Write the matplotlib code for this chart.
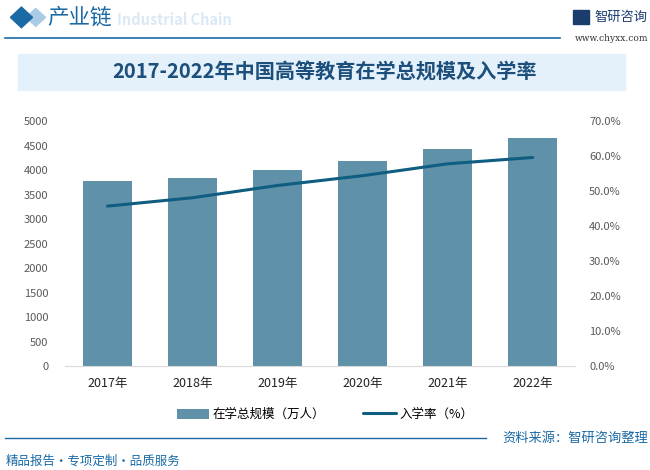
import matplotlib
matplotlib.use("Agg")
from matplotlib import pyplot as plt
from matplotlib.patches import Rectangle, Polygon
from matplotlib.lines import Line2D
from matplotlib.ticker import FuncFormatter

plt.rcParams['font.family'] = ['Noto Sans CJK SC', 'DejaVu Sans']

years = ['2017年', '2018年', '2019年', '2020年', '2021年', '2022年']
enrolment = [3779, 3833, 4002, 4183, 4430, 4655]   # 在学总规模（万人）
gross_rate = [45.7, 48.1, 51.6, 54.4, 57.8, 59.6]  # 入学率（%）

title = '2017-2022年中国高等教育在学总规模及入学率'
bar_color = '#5f91a8'
line_color = '#0f5d80'
blue = '#1b6aa5'
tick_grey = '#595959'

fig = plt.figure(figsize=(6.5, 4.7), dpi=100)

# header
fig.add_artist(Polygon([[0.016, 0.963], [0.033, 0.985], [0.050, 0.963], [0.033, 0.941]],
                       closed=True, color=blue, transform=fig.transFigure))
fig.add_artist(Polygon([[0.040, 0.963], [0.055, 0.982], [0.070, 0.963], [0.055, 0.944]],
                       closed=True, color='#a9cbe6', transform=fig.transFigure, zorder=0))
fig.text(0.180, 0.958, 'Industrial Chain', fontsize=10.5, color='#dbe9f5', weight='bold',
         va='center', ha='left')
fig.text(0.072, 0.962, '产业链', fontsize=15.5, color=blue, va='center', ha='left')
fig.add_artist(Line2D([0.008, 0.862], [0.919, 0.919], color=blue, lw=1.2))
fig.text(0.915, 0.962, '智研咨询', fontsize=9.5, color='#1a3d6e', va='center', ha='left')
fig.add_artist(Rectangle((0.882, 0.950), 0.024, 0.028, color='#1a3d6e', transform=fig.transFigure))
fig.text(0.998, 0.918, 'www.chyxx.com', fontsize=6.5, color='#333333', va='center', ha='right',
         family='DejaVu Serif')

# title band
fig.add_artist(Rectangle((0.028, 0.808), 0.934, 0.078, color='#e5f1fa', transform=fig.transFigure,
                         zorder=0))
fig.text(0.5, 0.847, title, fontsize=14.5, color='#1c4f7c', weight='bold', ha='center', va='center')

# chart
ax = fig.add_axes([0.1, 0.2213, 0.785, 0.521])
x = list(range(len(years)))
ax.bar(x, enrolment, width=0.57, color=bar_color, label='在学总规模（万人）', zorder=2)
ax.set_ylim(0, 5000)
ax.set_yticks(range(0, 5001, 500))
ax.set_xlim(-0.5, 5.5)
ax.set_xticks(x)
ax.set_xticklabels(years, fontsize=9, color='#222222')
ax.tick_params(axis='y', labelsize=8, colors=tick_grey, length=0, pad=12)
ax.tick_params(axis='x', length=0, pad=8)
for s in ['top', 'right', 'left']:
    ax.spines[s].set_visible(False)
ax.spines['bottom'].set_color('#d9d9d9')

ax2 = ax.twinx()
ax2.plot(x, gross_rate, color=line_color, lw=2.2, label='入学率（%）', solid_capstyle='round')
ax2.set_ylim(0, 70)
ax2.set_yticks(range(0, 71, 10))
ax2.yaxis.set_major_formatter(FuncFormatter(lambda v, p: '%.1f%%' % v))
ax2.tick_params(axis='y', labelsize=8, colors=tick_grey, length=0, pad=10)
for s in ['top', 'right', 'left', 'bottom']:
    ax2.spines[s].set_visible(False)

h1, l1 = ax.get_legend_handles_labels()
h2, l2 = ax2.get_legend_handles_labels()
fig.legend(h1 + h2, l1 + l2, loc='center', bbox_to_anchor=(0.5, 0.118), ncol=2, frameon=False,
           fontsize=9, handlelength=2.6, handleheight=0.9, columnspacing=3.0, handletextpad=0.3)

# footer
fig.add_artist(Line2D([0.008, 0.748], [0.068, 0.068], color=blue, lw=1.0))
fig.text(0.997, 0.068, '资料来源：智研咨询整理', fontsize=9.5, color=blue, ha='right', va='center')
fig.text(0.008, 0.020, '精品报告・专项定制・品质服务', fontsize=9, color=blue, ha='left', va='center')

plt.savefig('out.png', dpi=100)
